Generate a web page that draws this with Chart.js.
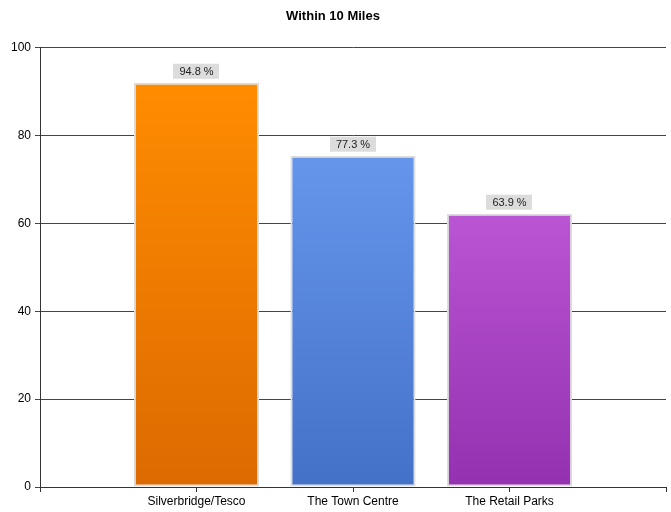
<!DOCTYPE html>
<html>
<head>
<meta charset="utf-8">
<script src="https://cdn.jsdelivr.net/npm/chart.js@4/dist/chart.umd.min.js"></script>
<style>
  html, body { margin: 0; padding: 0; background: #fff; }
  #wrap { width: 671px; height: 512px; }
</style>
</head>
<body>
<div id="wrap"><canvas id="chart" width="671" height="512"></canvas></div>
<script>
// empty slots at both ends keep the axis running from 0 to 4 like the original
const categories = ["", "Silverbridge/Tesco", "The Town Centre", "The Retail Parks", ""];
const values = [null, 92.0, 75.4, 62.2, null];
const valueLabels = ["", "94.8 %", "77.3 %", "63.9 %", ""];
const yTicks = [0, 20, 40, 60, 80, 100];

const topColors = ["", "#FF8C00", "#6596EC", "#BA55D3", ""];
const bottomColors = ["", "#DC6A00", "#4471C8", "#9331B0", ""];

function barFill(ctx) {
  const chart = ctx.chart;
  const area = chart.chartArea;
  const i = ctx.dataIndex;
  if (!area || values[i] == null) return topColors[i] || "#000";
  const y = chart.scales.y;
  const top = y.getPixelForValue(values[i]);
  const bottom = y.getPixelForValue(0);
  const g = chart.ctx.createLinearGradient(0, top, 0, bottom);
  g.addColorStop(0, topColors[i]);
  g.addColorStop(1, bottomColors[i]);
  return g;
}

const labelBoxes = {
  id: "labelBoxes",
  afterDatasetsDraw(chart) {
    const ctx = chart.ctx;
    const meta = chart.getDatasetMeta(0);
    ctx.save();
    ctx.font = "11px 'Liberation Sans', Arial, sans-serif";
    ctx.textAlign = "center";
    ctx.textBaseline = "middle";
    meta.data.forEach((bar, i) => {
      if (values[i] == null) return;
      const text = valueLabels[i];
      const w = ctx.measureText(text).width + 12;
      const h = 15;
      const bottom = bar.y - 4;
      ctx.fillStyle = "#DCDCDC";
      ctx.fillRect(Math.round(bar.x - w / 2), bottom - h, Math.round(w), h);
      ctx.fillStyle = "#222";
      ctx.fillText(text, bar.x, bottom - h / 2 + 0.5);
    });
    ctx.restore();
  }
};

new Chart(document.getElementById("chart"), {
  type: "bar",
  data: {
    labels: categories,
    datasets: [{
      data: values,
      backgroundColor: barFill,
      borderColor: "#DCDCDC",
      borderWidth: 2,
      borderSkipped: false,
      barPercentage: 1,
      categoryPercentage: 0.8,
    }],
  },
  options: {
    responsive: false,
    animation: false,
    layout: { padding: { left: 0, right: 5, top: 0, bottom: 0 } },
    plugins: {
      legend: { display: false },
      tooltip: { enabled: false },
      title: {
        display: true,
        text: "Within 10 Miles",
        color: "#000",
        font: { family: "'Liberation Sans', Arial, sans-serif", size: 13, weight: "bold" },
        padding: { top: 9, bottom: 23 },
      },
    },
    scales: {
      x: {
        offset: false,
        grid: { offset: false, drawOnChartArea: false, drawTicks: true, tickLength: 5, color: "#333" },
        border: { color: "#333", width: 1 },
        ticks: {
          color: "#000",
          padding: 2,
          maxRotation: 0,
          autoSkip: false,
          font: { family: "'Liberation Sans', Arial, sans-serif", size: 12 },
        },
        afterFit(scale) { scale.height = 25; },
      },
      y: {
        min: 0,
        max: 100,
        afterBuildTicks(scale) { scale.ticks = yTicks.map(v => ({ value: v })); },
        grid: { color: "#444", tickLength: 5, drawTicks: true },
        border: { color: "#333", width: 1 },
        ticks: {
          color: "#000",
          padding: 4,
          font: { family: "'Liberation Sans', Arial, sans-serif", size: 12 },
        },
        afterFit(scale) { scale.width = 40; },
      },
    },
  },
  plugins: [labelBoxes],
});
</script>
</body>
</html>
